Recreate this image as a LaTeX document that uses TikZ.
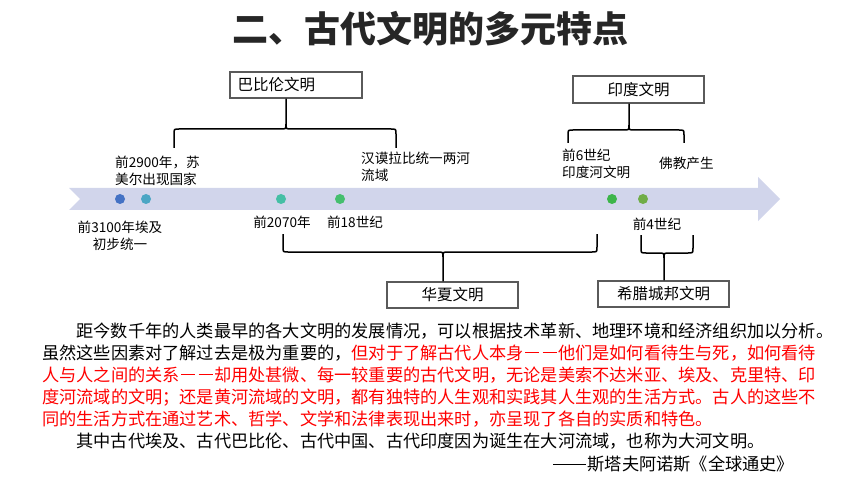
\documentclass[tikz,border=0pt]{standalone}
\usepackage{fontspec}
\setmainfont{Noto Sans CJK SC}
\definecolor{band}{RGB}{209,213,235}
\definecolor{cA}{RGB}{68,114,196}
\definecolor{cB}{RGB}{75,166,196}
\definecolor{cC}{RGB}{69,191,165}
\definecolor{cD}{RGB}{69,191,110}
\definecolor{cE}{RGB}{61,181,74}
\definecolor{cF}{RGB}{112,173,71}
\definecolor{titlec}{RGB}{38,38,38}
\definecolor{boxc}{RGB}{90,90,90}
\definecolor{redtxt}{RGB}{255,0,0}
\newcommand{\cjkdash}{\makebox[1em]{\rule[0.34em]{0.82em}{0.075em}}}
\newcommand{\longdash}{\makebox[2em][l]{\rule[0.34em]{1.9em}{0.06em}}}
\newcommand{\cbrace}[7]{%
  \draw[bracepath] (#1,#3) -- (#1,{#4+5*#6}) .. controls (#1,#4) .. ({#1+5},#4) -- ({#5-5},#4) .. controls (#5,#4) .. (#5,{#4-5*#6}) -- (#5,0 |- #7);
  \draw[bracepath] (#2,#3) -- (#2,{#4+5*#6}) .. controls (#2,#4) .. ({#2-5},#4) -- ({#5+5},#4) .. controls (#5,#4) .. (#5,{#4-5*#6});}
\begin{document}
\begin{tikzpicture}[x=1pt,y=-1pt,
  bracepath/.style={line width=1.5pt,black},
  civbox/.style={draw=boxc,line width=1.1pt,fill=white,minimum height=26pt,inner ysep=0pt,font=\fontsize{15.5}{18}\selectfont},
  dot/.style={circle,minimum size=10pt,inner sep=0pt},
  lbl/.style={font=\fontsize{13.6}{17}\selectfont,inner sep=0pt},
  para/.style={font=\fontsize{17.2}{22}\selectfont,inner sep=0pt,anchor=base west}]
\useasboundingbox (0,0) rectangle (860,484);
% title
\node[font=\fontsize{36}{40}\selectfont\bfseries,text=titlec,anchor=base,inner sep=0pt] (title) at (430,42.5) {二、古代文明的多元特点};
% timeline band
\fill[band] (69,188) -- (758,188) -- (758,177) -- (780,199) -- (758,221) -- (758,210) -- (69,210) -- (80,199) -- cycle;
% dots
\node[dot,fill=cA] (d1) at (120,199) {};
\node[dot,fill=cB] (d2) at (146,199) {};
\node[dot,fill=cC] (d3) at (281,199) {};
\node[dot,fill=cD] (d4) at (340,199) {};
\node[dot,fill=cE] (d5) at (612,199) {};
\node[dot,fill=cF] (d6) at (643,199) {};
% labels
\node[lbl,align=center] (l1) at (120,236) {前3100年埃及\\初步统一};
\node[lbl,align=left,anchor=west] (l2) at (115,170.5) {前2900年，苏\\美尔出现国家};
\node[lbl] (l3) at (282,222) {前2070年};
\node[lbl] (l4) at (355,222) {前18世纪};
\node[lbl,align=left,anchor=west] (l5) at (361,166.5) {汉谟拉比统一两河\\流域};
\node[lbl,align=left,anchor=west] (l6) at (562,163.5) {前6世纪\\印度河文明};
\node[lbl,anchor=west] (l7) at (659,163) {佛教产生};
\node[lbl] (l8) at (657,224) {前4世纪};
% boxes
\node[civbox,text width=117pt,inner xsep=7.5pt,align=left] (bab) at (296,85) {巴比伦文明};
\node[civbox,minimum width=131pt,minimum height=27pt] (ind) at (638.5,89.5) {印度文明};
\node[civbox,minimum width=131pt] (hx) at (452.5,295) {华夏文明};
\node[civbox,minimum width=131pt] (gr) at (663.5,294) {希腊城邦文明};
% braces
\cbrace{174}{396}{148}{129}{286}{1}{bab.south}
\cbrace{568}{684}{143}{130}{629}{1}{ind.south}
\cbrace{283}{597}{234}{252}{443}{-1}{hx.north}
\cbrace{641}{693}{235}{253}{664}{-1}{gr.north}
% paragraph
\node[para] (p1) at (42,337) {\hspace*{2em}距今数千年的人类最早的各大文明的发展情况，可以根据技术革新、地理环境和经济组织加以分析。};
\node[para] (p2) at (42,359) {虽然这些因素对了解过去是极为重要的，\textcolor{redtxt}{但对于了解古代人本身\cjkdash\cjkdash 他们是如何看待生与死，如何看待}};
\node[para,text=redtxt] (p3) at (42,381) {人与人之间的关系\cjkdash\cjkdash 却用处甚微、每一较重要的古代文明，无论是美索不达米亚、埃及、克里特、印};
\node[para,text=redtxt] (p4) at (42,403) {度河流域的文明；还是黄河流域的文明，都有独特的人生观和实践其人生观的生活方式。古人的这些不};
\node[para,text=redtxt] (p5) at (42,425) {同的生活方式在通过艺术、哲学、文学和法律表现出来时，亦呈现了各自的实质和特色。};
\node[para] (p6) at (42,447.5) {\hspace*{2em}其中古代埃及、古代巴比伦、古代中国、古代印度因为诞生在大河流域，也称为大河文明。};
\node[para] (p7) at (553,470.5) {\longdash 斯塔夫阿诺斯《全球通史》};
\end{tikzpicture}
\end{document}
